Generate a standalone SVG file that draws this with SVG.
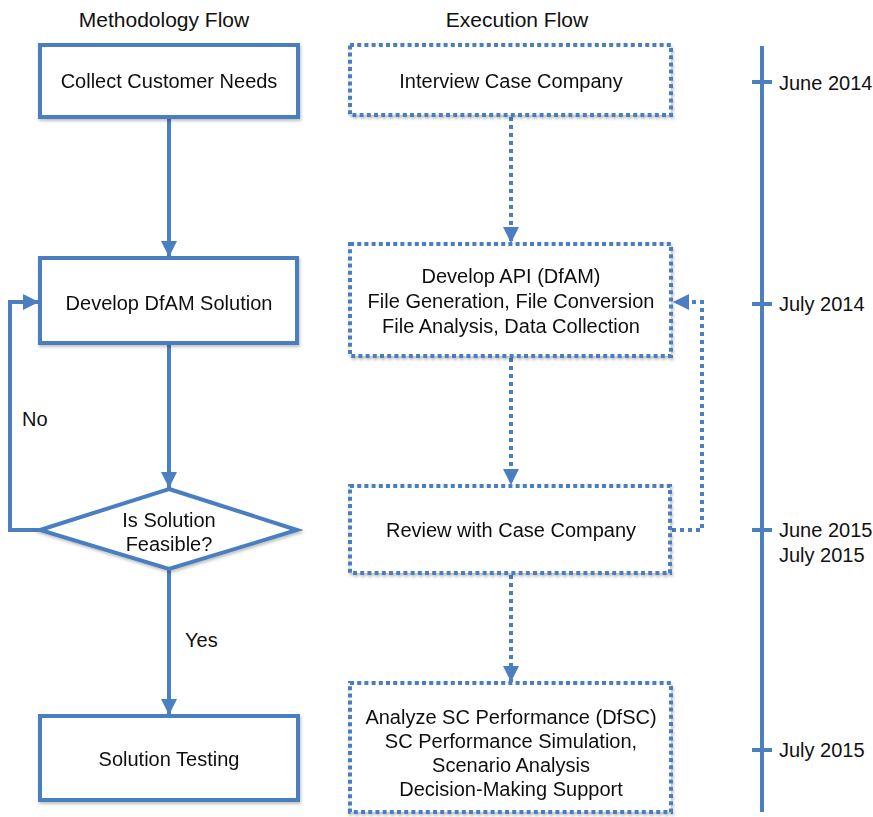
<svg xmlns="http://www.w3.org/2000/svg" width="873" height="817" viewBox="0 0 873 817">
  <style>
    text { font-family: "Liberation Sans", Arial, sans-serif; font-size: 20px; fill: #111; }
    .c { text-anchor: middle; }
    .h { font-size: 21px; }
    .solid { fill: #fff; stroke: #4a7fc1; stroke-width: 4; }
    .dot { fill: #fff; stroke: #4a7fc1; stroke-width: 4; stroke-dasharray: 4 3.2; }
    .line { fill: none; stroke: #4a7fc1; stroke-width: 4; }
    .dline { fill: none; stroke: #4a7fc1; stroke-width: 4; stroke-dasharray: 4 4; }
  </style>
  <defs>
    <marker id="arrow" viewBox="0 0 10 10" refX="10" refY="5" markerWidth="4" markerHeight="4" markerUnits="strokeWidth" orient="auto">
      <path d="M0,0 L10,5 L0,10 z" fill="#4a7fc1"/>
    </marker>
    <filter id="shadow" x="-5%" y="-5%" width="115%" height="120%">
      <feDropShadow dx="1" dy="2" stdDeviation="1.5" flood-color="#000" flood-opacity="0.25"/>
    </filter>
  </defs>
  <rect width="873" height="817" fill="#fff"/>

  <!-- column headings -->
  <text class="c h" x="164" y="27">Methodology Flow</text>
  <text class="c h" x="517" y="27">Execution Flow</text>

  <!-- connectors -->
  <g id="connectors">
    <line class="line" x1="169" y1="117" x2="169" y2="257" marker-end="url(#arrow)"/>
    <line class="line" x1="169" y1="343" x2="169" y2="488" marker-end="url(#arrow)"/>
    <line class="line" x1="169" y1="569" x2="169" y2="715" marker-end="url(#arrow)"/>
    <polyline class="line" points="40,530 10,530 10,302 39,302" marker-end="url(#arrow)"/>
    <line class="dline" x1="511" y1="117" x2="511" y2="243" marker-end="url(#arrow)"/>
    <line class="dline" x1="511" y1="358" x2="511" y2="485" marker-end="url(#arrow)"/>
    <line class="dline" x1="511" y1="575" x2="511" y2="682" marker-end="url(#arrow)"/>
    <polyline class="dline" points="672,530 702,530 702,302 673,302" marker-end="url(#arrow)"/>
    <text x="22" y="426">No</text>
    <text x="185" y="647">Yes</text>
  </g>

  <!-- methodology nodes -->
  <g id="collect" filter="url(#shadow)">
    <rect class="solid" x="40" y="45" width="258" height="72"/>
    <text class="c" x="169" y="88">Collect Customer Needs</text>
  </g>
  <g id="develop-dfam" filter="url(#shadow)">
    <rect class="solid" x="40" y="258" width="257" height="85"/>
    <text class="c" x="169" y="310">Develop DfAM Solution</text>
  </g>
  <g id="feasible" filter="url(#shadow)">
    <polygon class="solid" points="169,489 297,530 169,569 40,530"/>
    <text class="c" x="169" y="527">Is Solution</text>
    <text class="c" x="169" y="551">Feasible?</text>
  </g>
  <g id="testing" filter="url(#shadow)">
    <rect class="solid" x="40" y="716" width="258" height="84"/>
    <text class="c" x="169" y="766">Solution Testing</text>
  </g>

  <!-- execution nodes -->
  <g id="interview" filter="url(#shadow)">
    <rect class="dot" x="350" y="45" width="321" height="70"/>
    <text class="c" x="511" y="88">Interview Case Company</text>
  </g>
  <g id="develop-api" filter="url(#shadow)">
    <rect class="dot" x="350" y="244" width="321" height="112"/>
    <text class="c" x="511" y="283">Develop API (DfAM)</text>
    <text class="c" x="511" y="308">File Generation, File Conversion</text>
    <text class="c" x="511" y="333">File Analysis, Data Collection</text>
  </g>
  <g id="review" filter="url(#shadow)">
    <rect class="dot" x="350" y="486" width="320" height="87"/>
    <text class="c" x="511" y="537">Review with Case Company</text>
  </g>
  <g id="analyze" filter="url(#shadow)">
    <rect class="dot" x="350" y="683" width="321" height="129"/>
    <text class="c" x="511" y="724">Analyze SC Performance (DfSC)</text>
    <text class="c" x="511" y="748">SC Performance Simulation,</text>
    <text class="c" x="511" y="772">Scenario Analysis</text>
    <text class="c" x="511" y="796">Decision-Making Support</text>
  </g>

  <!-- timeline -->
  <g id="timeline">
    <line class="line" x1="762" y1="46" x2="762" y2="812"/>
    <line class="line" x1="752" y1="82" x2="772" y2="82"/>
    <line class="line" x1="752" y1="304" x2="772" y2="304"/>
    <line class="line" x1="752" y1="530" x2="772" y2="530"/>
    <line class="line" x1="752" y1="750" x2="772" y2="750"/>
    <text x="779" y="90">June 2014</text>
    <text x="779" y="311">July 2014</text>
    <text x="779" y="537">June 2015</text>
    <text x="779" y="562">July 2015</text>
    <text x="779" y="757">July 2015</text>
  </g>
</svg>
